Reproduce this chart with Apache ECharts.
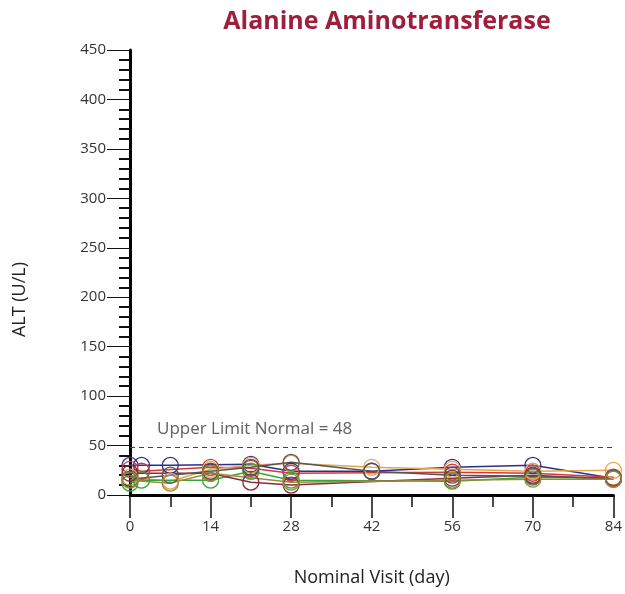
<!DOCTYPE html>
<html>
<head>
<meta charset="utf-8">
<script src="https://cdn.jsdelivr.net/npm/echarts@6/dist/echarts.min.js"></script>
<style>
  html, body { margin: 0; padding: 0; background: #ffffff; }
  #chart { width: 625px; height: 594px; }
</style>
</head>
<body>
<div id="chart"></div>
<script>
// ALT by nominal visit day, one line per subject
var chartTitle = 'Alanine Aminotransferase';
var xAxisTitle = 'Nominal Visit (day)';
var yAxisTitle = 'ALT (U/L)';
var upperLimitNormal = 48;

var xTicks = [0, 14, 28, 42, 56, 70, 84];
var yTicks = [0, 50, 100, 150, 200, 250, 300, 350, 400, 450];

var subjectColors = ['#2e2e8c', '#d23a3a', '#e3a650', '#3aa53a', '#8c2a3c', '#555555', '#9a8a3a'];

var subject1 = [[0, 30], [2, 30], [7, 30], [21, 31], [28, 24], [42, 24], [56, 28], [70, 30], [84, 17]];
var subject2 = [[0, 26], [2, 24], [14, 28], [21, 27], [28, 22], [56, 23], [70, 22], [84, 18]];
var subject3 = [[0, 18], [7, 14], [14, 26], [21, 30], [28, 32], [42, 28], [56, 26], [70, 24], [84, 25]];
var subject4 = [[0, 12], [2, 15], [14, 15], [21, 24], [28, 15], [56, 14], [70, 18], [84, 17]];
var subject5 = [[0, 22], [14, 22], [21, 13], [28, 10], [56, 17], [70, 20], [84, 16]];
var subject6 = [[0, 16], [7, 20], [14, 24], [21, 28], [28, 33], [42, 24], [56, 20], [70, 19], [84, 17]];
var subject7 = [[0, 15], [7, 12], [14, 22], [28, 13], [56, 15], [70, 16], [84, 16]];

var subjects = [subject1, subject2, subject3, subject4, subject5, subject6, subject7];

var FONT = '"Open Sans", "Noto Sans", sans-serif';

var series = subjects.map(function (data, i) {
  var s = {
    type: 'line',
    data: data,
    symbol: 'circle',
    symbolSize: 16,
    showAllSymbol: true,
    z: 3,
    lineStyle: { color: subjectColors[i], width: 1.5 },
    itemStyle: { color: 'rgba(255,255,255,0)', borderColor: subjectColors[i], borderWidth: 1.3 },
    emphasis: { disabled: true },
    animation: false
  };
  if (i === 0) {
    s.markLine = {
      silent: true,
      symbol: ['none', 'none'],
      animation: false,
      lineStyle: { color: '#444444', type: [5, 4], width: 1.2 },
      label: {
        show: true,
        position: 'insideStartTop',
        formatter: 'Upper Limit Normal = {c}',
        color: '#606060',
        fontFamily: FONT,
        fontSize: 17,
        distance: [27, 10]
      },
      data: [{ yAxis: upperLimitNormal }]
    };
  }
  return s;
});

var chart = echarts.init(document.getElementById('chart'), null, { renderer: 'canvas' });
chart.setOption({
  backgroundColor: '#ffffff',
  animation: false,
  title: {
    text: chartTitle,
    left: 382,
    top: 4,
    textAlign: 'center',
    textStyle: { color: '#9e1f3c', fontFamily: FONT, fontWeight: 'bold', fontSize: 25 }
  },
  grid: { left: 130, right: 9, top: 50, bottom: 99, containLabel: false },
  xAxis: {
    type: 'value',
    min: xTicks[0],
    max: xTicks[xTicks.length - 1],
    interval: xTicks[1] - xTicks[0],
    name: xAxisTitle,
    nameLocation: 'middle',
    nameGap: 74,
    nameTextStyle: { color: '#222222', fontFamily: FONT, fontSize: 18 },
    axisLine: { show: true, onZero: false, lineStyle: { color: '#000000', width: 3 } },
    axisTick: { show: true, length: 23, lineStyle: { color: '#111111', width: 1.5 } },
    minorTick: { show: true, splitNumber: 2, length: 12, lineStyle: { color: '#111111', width: 1.5 } },
    axisLabel: { color: '#333333', fontFamily: FONT, fontSize: 15, margin: 24 },
    splitLine: { show: false }
  },
  yAxis: {
    type: 'value',
    min: yTicks[0],
    max: yTicks[yTicks.length - 1],
    interval: yTicks[1] - yTicks[0],
    axisLine: { show: true, onZero: false, lineStyle: { color: '#000000', width: 3 } },
    axisTick: { show: true, length: 23, lineStyle: { color: '#111111', width: 1 } },
    minorTick: { show: true, splitNumber: 5, length: 11, lineStyle: { color: '#111111', width: 2 } },
    axisLabel: { color: '#333333', fontFamily: FONT, fontSize: 15, margin: 24 },
    splitLine: { show: false }
  },
  graphic: [
    {
      type: 'text',
      left: 11,
      top: 262,
      rotation: Math.PI / 2,
      style: {
        text: yAxisTitle,
        fill: '#222222',
        font: '18px ' + FONT
      }
    }
  ],
  series: series
});
</script>
</body>
</html>
